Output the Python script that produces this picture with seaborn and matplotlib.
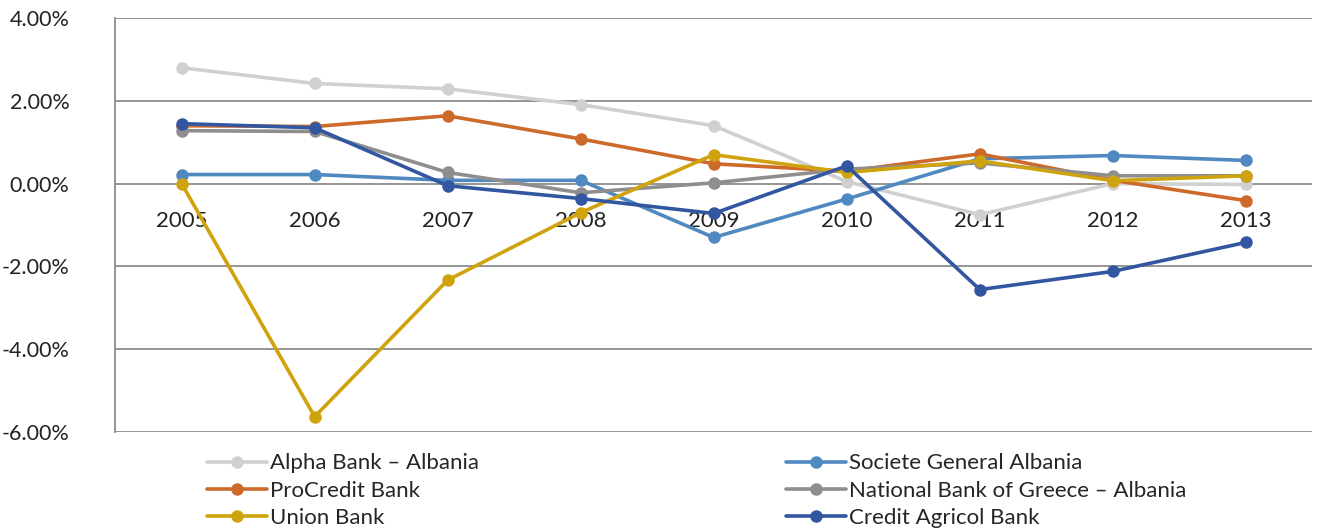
import pandas as pd
import numpy as np
import seaborn as sns
import matplotlib.pyplot as plt
from matplotlib.ticker import FuncFormatter

# --- data (values in %) ---
years = ["2005", "2006", "2007", "2008", "2009", "2010", "2011", "2012", "2013"]
alpha_bank = [2.80, 2.42, 2.29, 1.91, 1.40, 0.05, -0.75, 0.00, -0.02]
societe_general = [0.22, 0.22, 0.08, 0.08, -1.30, -0.37, 0.60, 0.68, 0.56]
procredit = [1.40, 1.38, 1.64, 1.08, 0.48, 0.30, 0.72, 0.08, -0.41]
national_bank = [1.28, 1.26, 0.27, -0.22, 0.02, 0.35, 0.50, 0.19, 0.19]
union_bank = [0.00, -5.63, -2.33, -0.70, 0.70, 0.27, 0.55, 0.07, 0.19]
credit_agricol = [1.45, 1.35, -0.05, -0.36, -0.72, 0.43, -2.56, -2.12, -1.42]

banks = {
    "Alpha Bank – Albania": alpha_bank,
    "Societe General Albania": societe_general,
    "ProCredit Bank": procredit,
    "National Bank of Greece – Albania": national_bank,
    "Union Bank": union_bank,
    "Credit Agricol Bank": credit_agricol,
}
colors = ["#D0D0D0", "#4F89C0", "#CD6A2A", "#8E8E8E", "#CFA30E", "#3257A0"]

df = pd.concat(
    [pd.DataFrame({"Year": years, "Value": v, "Bank": k}) for k, v in banks.items()],
    ignore_index=True,
)

# --- plot ---
sns.set_style("white")
plt.rcParams["font.family"] = ["Lato", "DejaVu Sans"]

fig = plt.figure(figsize=(13.23, 5.32), dpi=100)
ax = fig.add_axes([0.087, 0.188, 0.905, 0.778])

sns.lineplot(
    data=df, x="Year", y="Value", hue="Bank",
    palette=colors, marker="o", markersize=9, markeredgewidth=0,
    linewidth=2.6, sort=False, legend=True, ax=ax,
)

ax.set_ylim(-6, 4)
ax.set_xlim(-0.5, 8.5)
ax.set_yticks(np.arange(-6, 4.1, 2))
ax.yaxis.set_major_formatter(FuncFormatter(lambda v, _: f"{v:.2f}%"))
ax.grid(axis="y", color="#8C8C8C", linewidth=1.3)
ax.set_axisbelow(True)

# category labels sit next to the zero line, like Excel
ax.spines["bottom"].set_position(("data", 0))
ax.spines["bottom"].set_visible(False)
ax.spines["top"].set_visible(False)
ax.spines["right"].set_visible(False)
ax.spines["left"].set_color("#8C8C8C")
ax.spines["left"].set_linewidth(1.3)
ax.tick_params(axis="x", length=0, pad=20, labelsize=16, labelcolor="#222222")
ax.tick_params(axis="y", length=0, pad=33, labelsize=15.5, labelcolor="#222222")
ax.set_xlabel("")
ax.set_ylabel("")

# legend in two columns below the plot (row order matches the reference)
handles, labels = ax.get_legend_handles_labels()
order = [0, 2, 4, 1, 3, 5]
ax.legend(
    [handles[i] for i in order], [labels[i] for i in order],
    ncol=2, loc="upper left", bbox_to_anchor=(0.069, -0.03),
    frameon=False, fontsize=16, handlelength=2.7, handletextpad=0.15,
    columnspacing=13.8, labelspacing=0.33, borderaxespad=0,
)

plt.savefig("out.png", dpi=100)
